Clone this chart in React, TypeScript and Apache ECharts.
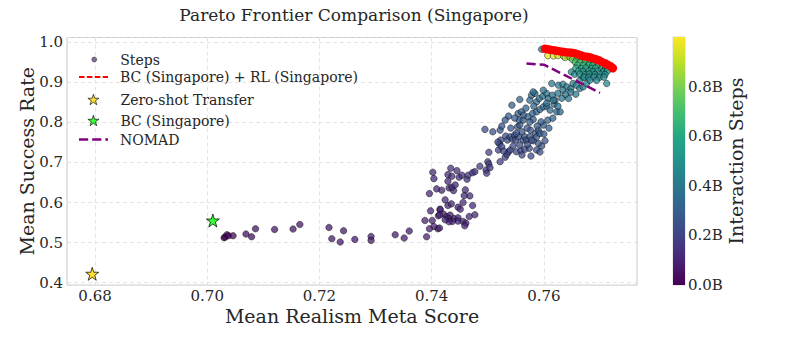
import { useEffect, useRef } from 'react';
import * as echarts from 'echarts';

const FONT = 'DejaVu Serif';
const TEXT = '#262626';

// Axis ranges
const X_MIN = 0.675;
const X_MAX = 0.7766;
const Y_MIN = 0.394;
const Y_MAX = 1.012;
const STEPS_MIN = 0;
const STEPS_MAX = 1.0;
const STEPS_TICK = 0.2;

// Steps scatter: [mean realism meta score, mean success rate, interaction steps (billions)]
const stepsLowPlateau: [number, number, number][] = [
  [0.7030, 0.5120, 0.01], [0.7032, 0.5138, 0.02], [0.7035, 0.5195, 0.03], [0.7038, 0.5170, 0.02],
  [0.7046, 0.5170, 0.03], [0.7069, 0.5212, 0.05], [0.7079, 0.5145, 0.05], [0.7086, 0.5344, 0.06],
  [0.7120, 0.5327, 0.06], [0.7153, 0.5337, 0.06], [0.7165, 0.5451, 0.07], [0.7217, 0.5376, 0.07],
  [0.7222, 0.5095, 0.07], [0.7237, 0.5013, 0.07], [0.7243, 0.5294, 0.07], [0.7263, 0.5078, 0.07],
  [0.7292, 0.5152, 0.08], [0.7292, 0.5053, 0.08], [0.7335, 0.5195, 0.08], [0.7351, 0.5113, 0.08],
  [0.7360, 0.5287, 0.08], [0.7391, 0.5145, 0.09], [0.7411, 0.5344, 0.09],
];

const stepsRise: [number, number, number][] = [
  [0.7388, 0.5551, 0.09], [0.7398, 0.5792, 0.10], [0.7401, 0.5551, 0.09], [0.7404, 0.5401, 0.09],
  [0.7396, 0.5344, 0.09], [0.7412, 0.5668, 0.10], [0.7414, 0.5362, 0.10], [0.7415, 0.5817, 0.10],
  [0.7421, 0.5710, 0.10], [0.7402, 0.6755, 0.13], [0.7404, 0.6596, 0.12], [0.7396, 0.6223, 0.11],
  [0.7409, 0.6340, 0.11], [0.7418, 0.6307, 0.11], [0.7429, 0.6531, 0.12], [0.7429, 0.6696, 0.13],
  [0.7434, 0.6855, 0.14], [0.7436, 0.6656, 0.13], [0.7445, 0.6795, 0.14], [0.7431, 0.6365, 0.12],
  [0.7439, 0.6297, 0.12], [0.7436, 0.6382, 0.12], [0.7449, 0.6631, 0.13], [0.7454, 0.6681, 0.14],
  [0.7463, 0.6581, 0.14], [0.7465, 0.6681, 0.15], [0.7473, 0.6745, 0.15], [0.7477, 0.6770, 0.16],
  [0.7486, 0.6905, 0.17], [0.7495, 0.7826, 0.24], [0.7502, 0.7253, 0.20], [0.7500, 0.7019, 0.18],
  [0.7497, 0.6813, 0.17], [0.7498, 0.6730, 0.16], [0.7460, 0.6315, 0.13], [0.7468, 0.6165, 0.13],
  [0.7458, 0.6173, 0.12], [0.7456, 0.5999, 0.12], [0.7473, 0.5924, 0.12], [0.7429, 0.5924, 0.11],
  [0.7435, 0.5966, 0.11], [0.7415, 0.5834, 0.10], [0.7447, 0.5884, 0.11], [0.7451, 0.5834, 0.11],
  [0.7414, 0.5693, 0.10], [0.7427, 0.5650, 0.10], [0.7433, 0.5685, 0.10], [0.7431, 0.5593, 0.10],
  [0.7440, 0.5600, 0.10], [0.7447, 0.5618, 0.11], [0.7447, 0.5536, 0.10], [0.7456, 0.5526, 0.11],
  [0.7461, 0.5486, 0.11], [0.7459, 0.5419, 0.10], [0.7467, 0.5650, 0.11], [0.7477, 0.5693, 0.12],
  [0.7437, 0.5526, 0.10], [0.7431, 0.5518, 0.10], [0.7424, 0.5568, 0.10], [0.7424, 0.6066, 0.11],
  [0.7442, 0.6439, 0.12],
];

const stepsMid: [number, number, number][] = [
  [0.7502, 0.6962, 0.18], [0.7522, 0.7019, 0.19], [0.7504, 0.6870, 0.17], [0.7531, 0.7129, 0.20],
  [0.7534, 0.7203, 0.20], [0.7537, 0.7268, 0.21], [0.7519, 0.7310, 0.20], [0.7521, 0.7467, 0.22],
  [0.7523, 0.7559, 0.22], [0.7518, 0.7509, 0.22], [0.7509, 0.7766, 0.24], [0.7522, 0.7808, 0.25],
  [0.7525, 0.7908, 0.26], [0.7537, 0.8157, 0.28], [0.7532, 0.7659, 0.24], [0.7535, 0.7559, 0.23],
  [0.7540, 0.7641, 0.24], [0.7544, 0.7584, 0.24], [0.7548, 0.7684, 0.25], [0.7550, 0.7559, 0.24],
  [0.7555, 0.7641, 0.25], [0.7553, 0.7890, 0.27], [0.7557, 0.7933, 0.27], [0.7561, 0.7766, 0.26],
  [0.7563, 0.7559, 0.25], [0.7566, 0.7641, 0.26], [0.7569, 0.7559, 0.25], [0.7575, 0.7641, 0.26],
  [0.7576, 0.7808, 0.27], [0.7525, 0.7393, 0.22], [0.7528, 0.7285, 0.21], [0.7540, 0.7310, 0.22],
  [0.7551, 0.7268, 0.22], [0.7559, 0.7293, 0.23], [0.7566, 0.7328, 0.23], [0.7574, 0.7353, 0.24],
  [0.7587, 0.7310, 0.24], [0.7596, 0.7410, 0.25], [0.7590, 0.7477, 0.25], [0.7581, 0.7542, 0.25],
  [0.7602, 0.7542, 0.26], [0.7551, 0.7726, 0.26], [0.7557, 0.7435, 0.23], [0.7571, 0.7452, 0.24],
  [0.7578, 0.7559, 0.26], [0.7585, 0.7726, 0.27], [0.7587, 0.7641, 0.27], [0.7590, 0.7808, 0.28],
  [0.7593, 0.7726, 0.28], [0.7599, 0.7933, 0.29], [0.7595, 0.8015, 0.30], [0.7570, 0.7858, 0.27],
  [0.7541, 0.7858, 0.26], [0.7531, 0.8057, 0.27], [0.7545, 0.7410, 0.23], [0.7561, 0.7186, 0.22],
  [0.7577, 0.7161, 0.23], [0.7593, 0.7261, 0.24], [0.7600, 0.7709, 0.28], [0.7609, 0.7858, 0.30],
  [0.7588, 0.7908, 0.29],
];

const stepsUpper: [number, number, number][] = [
  [0.7554, 0.8224, 0.30], [0.7556, 0.8057, 0.29], [0.7560, 0.8264, 0.31], [0.7563, 0.8057, 0.29],
  [0.7564, 0.8182, 0.30], [0.7572, 0.8139, 0.30], [0.7580, 0.8224, 0.31], [0.7581, 0.8074, 0.30],
  [0.7587, 0.8264, 0.32], [0.7593, 0.8323, 0.33], [0.7599, 0.8388, 0.34], [0.7605, 0.8406, 0.34],
  [0.7611, 0.8306, 0.34], [0.7618, 0.8455, 0.36], [0.7623, 0.8264, 0.35], [0.7629, 0.8264, 0.35],
  [0.7620, 0.8555, 0.37], [0.7575, 0.8555, 0.34], [0.7578, 0.8679, 0.35], [0.7584, 0.8722, 0.36],
  [0.7587, 0.8513, 0.35], [0.7592, 0.8597, 0.36], [0.7598, 0.8654, 0.37], [0.7605, 0.8722, 0.38],
  [0.7608, 0.8597, 0.37], [0.7615, 0.8679, 0.38], [0.7626, 0.8928, 0.40], [0.7634, 0.8953, 0.41],
  [0.7641, 0.8886, 0.41], [0.7648, 0.8846, 0.41], [0.7652, 0.8971, 0.42], [0.7658, 0.8928, 0.42],
  [0.7664, 0.8846, 0.42], [0.7670, 0.8886, 0.43], [0.7676, 0.8971, 0.44], [0.7614, 0.8971, 0.40],
  [0.7634, 0.8804, 0.40], [0.7581, 0.8761, 0.36], [0.7599, 0.8804, 0.38], [0.7617, 0.8555, 0.38],
  [0.7644, 0.8597, 0.39], [0.7557, 0.8572, 0.33], [0.7543, 0.8430, 0.32], [0.7548, 0.8107, 0.30],
  [0.7568, 0.8356, 0.32], [0.7582, 0.8406, 0.33], [0.7575, 0.8007, 0.30], [0.7607, 0.8057, 0.32],
  [0.7616, 0.8107, 0.33], [0.7625, 0.8406, 0.36], [0.7632, 0.8605, 0.38], [0.7639, 0.8704, 0.39],
  [0.7648, 0.8754, 0.40], [0.7657, 0.8704, 0.41], [0.7625, 0.8729, 0.39], [0.7605, 0.8480, 0.35],
  [0.7712, 0.8971, 0.46], [0.7649, 0.9259, 0.46], [0.7655, 0.9202, 0.45], [0.7664, 0.9053, 0.44],
  [0.7670, 0.9135, 0.45],
];

const stepsTopCluster: [number, number, number][] = [
  [0.7596, 0.9826, 0.42],
  [0.7607, 0.9668, 0.97], [0.7617, 0.9660, 0.95], [0.7625, 0.9670, 0.93], [0.7635, 0.9655, 0.91],
  [0.7643, 0.9662, 0.88], [0.7638, 0.9620, 0.86], [0.7647, 0.9628, 0.84], [0.7654, 0.9618, 0.82],
  [0.7664, 0.9630, 0.80], [0.7651, 0.9572, 0.78], [0.7659, 0.9580, 0.76], [0.7669, 0.9568, 0.74],
  [0.7676, 0.9579, 0.73], [0.7686, 0.9570, 0.72], [0.7656, 0.9505, 0.72], [0.7664, 0.9496, 0.70],
  [0.7674, 0.9508, 0.69], [0.7682, 0.9497, 0.68], [0.7690, 0.9506, 0.67], [0.7701, 0.9498, 0.66],
  [0.7660, 0.9430, 0.66], [0.7670, 0.9421, 0.65], [0.7680, 0.9432, 0.64], [0.7687, 0.9420, 0.63],
  [0.7697, 0.9428, 0.62], [0.7705, 0.9419, 0.62], [0.7714, 0.9430, 0.60], [0.7657, 0.9355, 0.60],
  [0.7667, 0.9346, 0.60], [0.7675, 0.9357, 0.59], [0.7685, 0.9348, 0.58], [0.7692, 0.9354, 0.58],
  [0.7703, 0.9345, 0.57], [0.7710, 0.9356, 0.57], [0.7720, 0.9349, 0.56], [0.7662, 0.9280, 0.55],
  [0.7670, 0.9272, 0.55], [0.7680, 0.9283, 0.54], [0.7688, 0.9273, 0.53], [0.7696, 0.9280, 0.53],
  [0.7706, 0.9271, 0.52], [0.7713, 0.9279, 0.52], [0.7664, 0.9205, 0.50], [0.7674, 0.9197, 0.50],
  [0.7681, 0.9206, 0.49], [0.7691, 0.9198, 0.49], [0.7700, 0.9207, 0.48], [0.7709, 0.9199, 0.48],
  [0.7672, 0.9130, 0.47], [0.7680, 0.9123, 0.47], [0.7689, 0.9131, 0.46], [0.7699, 0.9124, 0.46],
  [0.7707, 0.9129, 0.46], [0.7682, 0.9055, 0.44], [0.7694, 0.9050, 0.44],
];

const stepsPoints = [
  ...stepsLowPlateau, ...stepsRise, ...stepsMid, ...stepsUpper, ...stepsTopCluster,
];

// Pareto frontier of BC (Singapore) + RL (Singapore)
const frontierPoints: [number, number][] = [
  [0.7602, 0.9838], [0.7607, 0.9826], [0.7612, 0.9813], [0.7618, 0.9801], [0.7623, 0.9788],
  [0.7628, 0.9776], [0.7634, 0.9763], [0.7639, 0.9751], [0.7645, 0.9746], [0.7650, 0.9739],
  [0.7655, 0.9726], [0.7661, 0.9701], [0.7666, 0.9676], [0.7671, 0.9651], [0.7677, 0.9639],
  [0.7682, 0.9627], [0.7687, 0.9602], [0.7693, 0.9577], [0.7698, 0.9552], [0.7703, 0.9515],
  [0.7709, 0.9477], [0.7714, 0.9440], [0.7719, 0.9403], [0.7723, 0.9353],
];

const nomadPoints: [number, number][] = [
  [0.7569, 0.947], [0.7600, 0.944], [0.7700, 0.874],
];

const zeroShotPoint: [number, number][] = [[0.6795, 0.422]];
const bcSingaporePoint: [number, number][] = [[0.7010, 0.555]];

const VIRIDIS = [
  '#440154', '#482475', '#414487', '#355f8d', '#2a788e', '#21918c',
  '#22a884', '#44bf70', '#7ad151', '#bddf26', '#fde725',
];

const STAR = 'path://M10,0L12.245,6.91L19.511,6.91L13.633,11.18L15.878,18.09L10,13.82L4.122,18.09L6.367,11.18L0.489,6.91L7.755,6.91Z';
const RED_DASH_ICON = 'path://M0,0H5.5V1.8H0Z M7.9,0H13.4V1.8H7.9Z M15.8,0H21.3V1.8H15.8Z M23.7,0H29V1.8H23.7Z';
const PURPLE_DASH_ICON = 'path://M0,0H9.2V2.6H0Z M13.2,0H22.4V2.6H13.2Z M26.4,0H29V2.6H26.4Z';

const legendText = (pad: number) => ({
  fontFamily: FONT, fontSize: 14, color: TEXT, padding: [0, 0, 0, pad],
});

function buildOption() {
  const gradient = new echarts.graphic.LinearGradient(
    0, 1, 0, 0,
    VIRIDIS.map((c, i) => ({ offset: i / (VIRIDIS.length - 1), color: c })),
  );
  return {
    animation: false,
    backgroundColor: '#ffffff',
    title: {
      text: 'Pareto Frontier Comparison (Singapore)',
      left: 354,
      top: 6,
      textAlign: 'center',
      padding: 0,
      textStyle: { fontFamily: FONT, fontSize: 17, fontWeight: 'normal', color: TEXT },
    },
    grid: [
      { left: 67, top: 37.5, width: 570, height: 247.5, show: true, borderColor: '#cccccc', borderWidth: 1, backgroundColor: '#ffffff' },
      { left: 673, top: 37, width: 12, height: 248, show: true, borderColor: '#cccccc', borderWidth: 0.8 },
    ],
    xAxis: [
      {
        type: 'value', gridIndex: 0, min: X_MIN, max: X_MAX, splitNumber: 5,
        name: 'Mean Realism Meta Score', nameLocation: 'middle', nameGap: 21, nameMoveOverlap: false,
        nameTextStyle: { fontFamily: FONT, fontSize: 19, color: TEXT },
        axisLine: { show: false }, axisTick: { show: false },
        axisLabel: {
          fontFamily: FONT, fontSize: 15, color: TEXT, margin: 3,
          showMinLabel: false, showMaxLabel: false,
          formatter: (v: number) => v.toFixed(2),
        },
        splitLine: { show: true, lineStyle: { color: '#dddddd', type: [4, 3], width: 0.8 } },
      },
      { type: 'category', gridIndex: 1, data: [''], show: false },
    ],
    yAxis: [
      {
        type: 'value', gridIndex: 0, min: Y_MIN, max: Y_MAX, splitNumber: 5,
        name: 'Mean Success Rate', nameLocation: 'middle', nameGap: 31, nameMoveOverlap: false,
        nameTextStyle: { fontFamily: FONT, fontSize: 19, color: TEXT },
        axisLine: { show: false }, axisTick: { show: false },
        axisLabel: {
          fontFamily: FONT, fontSize: 15, color: TEXT, margin: 4,
          showMinLabel: false, showMaxLabel: false,
          formatter: (v: number) => v.toFixed(1),
        },
        splitLine: { show: true, lineStyle: { color: '#dddddd', type: [4, 3], width: 0.8 } },
      },
      {
        type: 'value', gridIndex: 1, position: 'right', min: STEPS_MIN, max: STEPS_MAX, interval: STEPS_TICK,
        name: 'Interaction Steps', nameLocation: 'middle', nameGap: 39, nameRotate: 90,
        nameTextStyle: { fontFamily: FONT, fontSize: 19, color: TEXT },
        axisLine: { show: false }, axisTick: { show: false }, splitLine: { show: false },
        axisLabel: {
          fontFamily: FONT, fontSize: 15, color: TEXT, margin: 3, showMaxLabel: false,
          formatter: (v: number) => v.toFixed(1) + 'B',
        },
      },
    ],
    visualMap: {
      type: 'continuous', show: false, seriesIndex: 0, dimension: 2,
      min: STEPS_MIN, max: STEPS_MAX, inRange: { color: VIRIDIS },
    },
    legend: [
      {
        data: [{ name: 'Steps', icon: 'circle', itemStyle: { color: '#5b3f78', borderColor: '#000', borderWidth: 0.5 } }],
        left: 91.5, top: 52.5, itemWidth: 5, itemHeight: 5, padding: 0, selectedMode: false,
        textStyle: legendText(18.5),
      },
      {
        data: [{ name: 'BC (Singapore) + RL (Singapore)', icon: RED_DASH_ICON, itemStyle: { color: '#ff0000', borderWidth: 0 } }],
        left: 79, top: 70, itemWidth: 29, itemHeight: 14, padding: 0, selectedMode: false,
        textStyle: legendText(7),
      },
      {
        data: [{ name: 'Zero-shot Transfer', icon: STAR, itemStyle: { color: '#ffd700', borderColor: '#000', borderWidth: 0.8 } }],
        left: 87.5, top: 92.5, itemWidth: 11, itemHeight: 11, padding: 0, selectedMode: false,
        textStyle: legendText(16.5),
      },
      {
        data: [{ name: 'BC (Singapore)', icon: STAR, itemStyle: { color: '#00ff00', borderColor: '#000', borderWidth: 0.8 } }],
        left: 87.5, top: 113.5, itemWidth: 11, itemHeight: 11, padding: 0, selectedMode: false,
        textStyle: legendText(16.5),
      },
      {
        data: [{ name: 'NOMAD', icon: PURPLE_DASH_ICON, itemStyle: { color: '#800080', borderWidth: 0 } }],
        left: 79, top: 132.5, itemWidth: 29, itemHeight: 14, padding: 0, selectedMode: false,
        textStyle: legendText(7),
      },
    ],
    series: [
      {
        name: 'Steps', type: 'scatter', xAxisIndex: 0, yAxisIndex: 0,
        data: stepsPoints, symbol: 'circle', symbolSize: 6.5, z: 2,
        itemStyle: { opacity: 0.75, borderColor: '#000000', borderWidth: 0.6 },
      },
      {
        name: 'BC (Singapore) + RL (Singapore)', type: 'line', xAxisIndex: 0, yAxisIndex: 0,
        data: frontierPoints, symbol: 'circle', symbolSize: 8.5, showSymbol: true, z: 3,
        lineStyle: { color: '#ff0000', width: 1.5, type: [5.5, 2.4] },
        itemStyle: { color: '#ff0000', borderWidth: 0 },
      },
      {
        name: 'NOMAD', type: 'line', xAxisIndex: 0, yAxisIndex: 0,
        data: nomadPoints, symbol: 'none', z: 4,
        lineStyle: { color: '#800080', width: 2.5, type: [9.2, 4] },
        itemStyle: { color: '#800080' },
      },
      {
        name: 'Zero-shot Transfer', type: 'scatter', xAxisIndex: 0, yAxisIndex: 0,
        data: zeroShotPoint, symbol: STAR, symbolSize: 13, z: 5,
        itemStyle: { color: '#ffd700', borderColor: '#000', borderWidth: 0.9 },
      },
      {
        name: 'BC (Singapore)', type: 'scatter', xAxisIndex: 0, yAxisIndex: 0,
        data: bcSingaporePoint, symbol: STAR, symbolSize: 13, z: 5,
        itemStyle: { color: '#00ff00', borderColor: '#000', borderWidth: 0.9 },
      },
      {
        name: 'colorbar', type: 'bar', xAxisIndex: 1, yAxisIndex: 1,
        data: [STEPS_MAX], barWidth: '100%', silent: true,
        itemStyle: { color: gradient },
      },
    ],
  };
}

export default function App() {
  const ref = useRef<HTMLDivElement>(null);
  useEffect(() => {
    if (!ref.current) return;
    const chart = echarts.init(ref.current, null, { renderer: 'svg', width: 797, height: 342 });
    chart.setOption(buildOption() as any);
    return () => chart.dispose();
  }, []);
  return (
    <div
      ref={ref}
      style={{ position: 'fixed', left: 0, top: 0, width: 797, height: 342, background: '#ffffff' }}
    />
  );
}
